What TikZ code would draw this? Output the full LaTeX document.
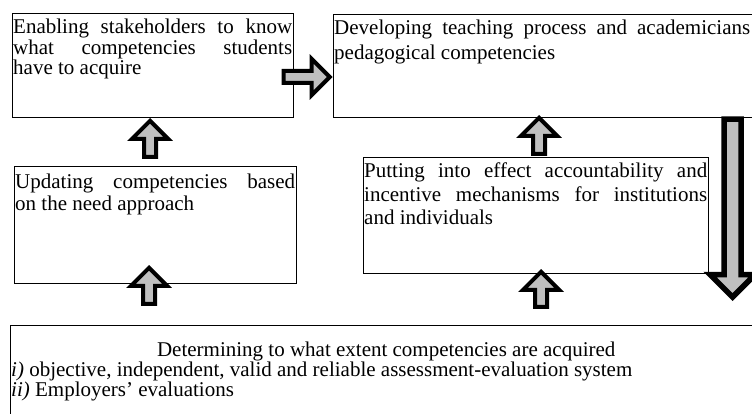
\documentclass[tikz,border=0pt]{standalone}
\usepackage{fontspec}
\setmainfont{Liberation Serif}
\usepackage{tikz}
\usetikzlibrary{shapes.arrows}
\definecolor{ggray}{HTML}{BFBFBF}

\tikzset{
  frame/.style={draw, line width=1pt, anchor=north west, inner sep=0pt},
  txt/.style={anchor=base west, inner sep=0pt},
  blockarr/.style={single arrow, draw=black, fill=ggray, line width=4pt,
    inner sep=4pt, single arrow head extend=12pt, anchor=tip},
  bigarr/.style={single arrow, draw=black, fill=ggray, line width=5.5pt,
    inner sep=5.75pt, single arrow head extend=14pt, anchor=tip}
}
\newcommand{\boxtxt}[3]{\parbox[t]{#1}{\fontsize{21}{#2}\selectfont #3}}

\begin{document}
\begin{tikzpicture}[x=1pt,y=-1pt]
\useasboundingbox (0,0) rectangle (752,414);
\clip (0,0) rectangle (752,414);

% boxes
\node[frame, minimum width=281pt, minimum height=104pt] (enab) at (12,13) {};
\node[frame, minimum width=437pt, minimum height=103pt] (devel) at (333,14) {};
\node[frame, minimum width=282pt, minimum height=117pt] (updat) at (14,166) {};
\node[frame, minimum width=345pt, minimum height=116pt] (putt) at (363,157) {};
\node[frame, minimum width=760pt, minimum height=105pt] (deter) at (10,325) {};

% texts
\node[txt] (enabT) at (13,34) {\boxtxt{279pt}{20.5pt}{Enabling stakeholders to know\linebreak
  what competencies students\linebreak have to acquire}};
\node[txt] (develT) at (334,35) {\boxtxt{416pt}{25pt}{Developing teaching process and academicians\linebreak
  pedagogical competencies}};
\node[txt] (updatT) at (15,189) {\boxtxt{280pt}{22pt}{Updating competencies based\linebreak
  on the need approach}};
\node[txt] (puttT) at (364,178) {\boxtxt{343pt}{23.5pt}{Putting into effect accountability and\linebreak
  incentive mechanisms for institutions\linebreak and individuals}};
\node[txt] (deterT) at (11,356) {\boxtxt{750pt}{19pt}{{\centering Determining to what extent competencies are acquired\par}
  \raggedright\textit{i)} objective, independent, valid and reliable assessment-evaluation system\par
  \textit{ii)} Employers’ evaluations}};

% arrows
\node[blockarr, minimum height=46pt] (arrAB) at (332.5,77) {};
\node[blockarr, rotate=90, minimum height=36pt] (arrCA) at (150,118) {};
\node[blockarr, rotate=90, minimum height=36pt] (arrEC) at (149,265) {};
\node[blockarr, rotate=90, minimum height=36pt] (arrDB) at (539,115) {};
\node[blockarr, rotate=90, minimum height=35pt] (arrED) at (541,269) {};
\node[bigarr, rotate=-90, minimum height=178pt] (arrBE) at (732.5,301) {};
\end{tikzpicture}
\end{document}
